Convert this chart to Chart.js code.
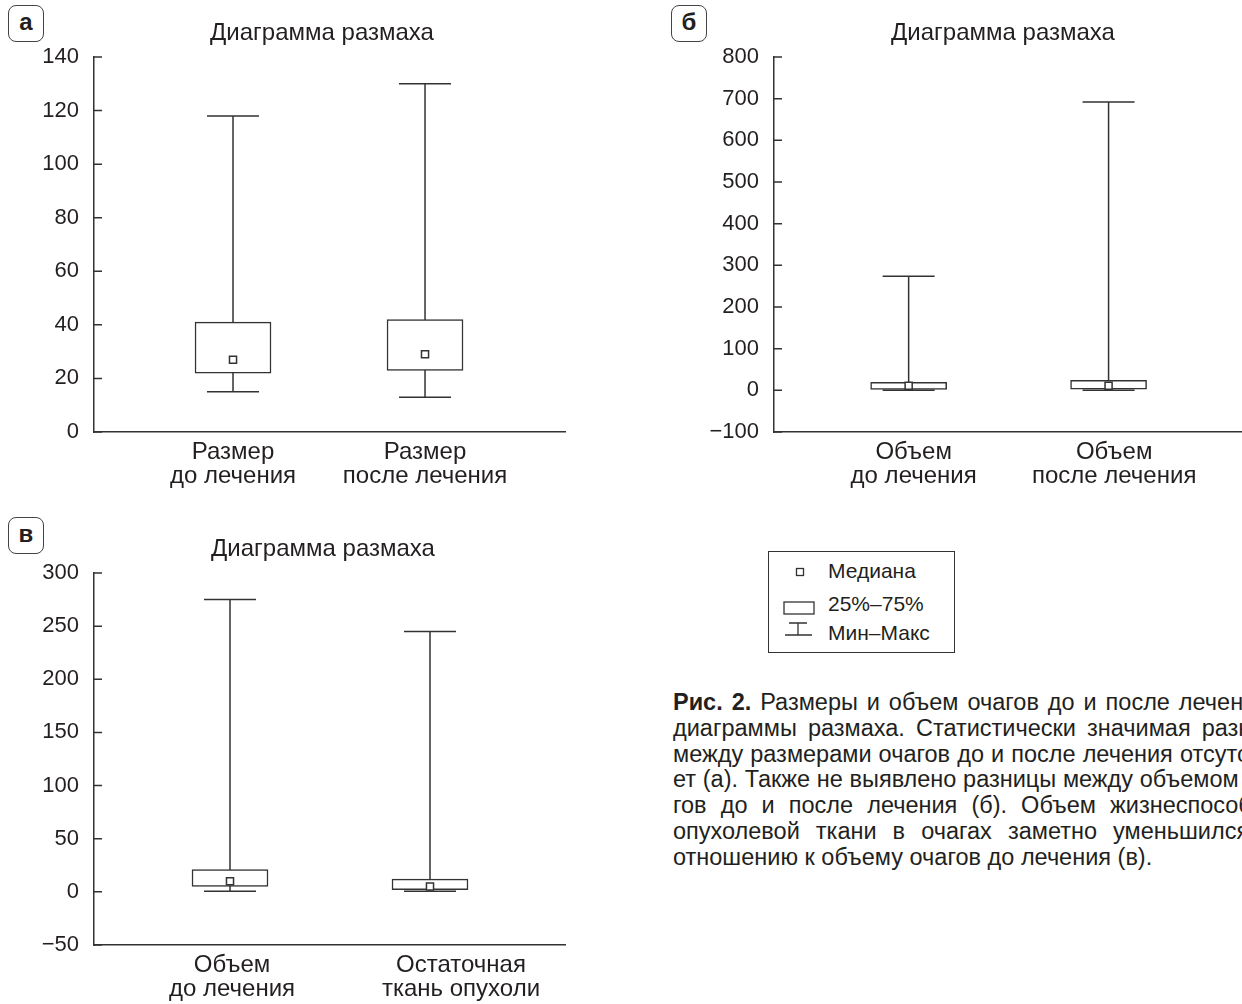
<!DOCTYPE html>
<html>
<head>
<meta charset="utf-8">
<script src="https://cdn.jsdelivr.net/npm/chart.js@4.4.1/dist/chart.umd.min.js"></script>
<style>
    body {
        margin: 0;
        width: 1242px;
        height: 1004px;
        overflow: hidden;
        position: relative;
        background: #fff;
        color: #231f20;
        font-family: "Liberation Sans", Arial, sans-serif;
    }
    canvas { position: absolute; }
    .tag {
        position: absolute;
        width: 34px;
        height: 35px;
        border: 1.5px solid #444;
        border-radius: 8px;
        font-weight: bold;
        font-size: 24px;
        line-height: 32px;
        text-align: center;
    }
    .legend {
        position: absolute;
        left: 768px;
        top: 551px;
        width: 185px;
        height: 100px;
        border: 1px solid #333;
    }
    .legend svg { position: absolute; left: 0; top: 0; }
    .legend span {
        position: absolute;
        left: 59px;
        font-size: 21px;
        line-height: 24px;
        white-space: nowrap;
    }
    .caption {
        position: absolute;
        left: 673px;
        top: 690px;
        font-size: 23.5px;
    }
    .caption div {
        width: 618px;
        height: 25.8px;
        line-height: 25.8px;
        white-space: nowrap;
        text-align: justify;
        text-align-last: justify;
    }
    .caption div.last { text-align-last: left; }
</style>
</head>
<body>

<div class="tag" style="left:8px;top:5px">а</div>
<div class="tag" style="left:671px;top:5px">б</div>
<div class="tag" style="left:8px;top:517px">в</div>

<canvas id="chartA" width="644" height="505" style="left:0;top:0"></canvas>
<canvas id="chartB" width="686" height="505" style="left:660px;top:0"></canvas>
<canvas id="chartC" width="646" height="488" style="left:0;top:516px"></canvas>

<div class="legend">
    <svg width="60" height="100">
        <rect x="27.5" y="16.5" width="7" height="7" fill="#fff" stroke="#333" stroke-width="1.3"/>
        <rect x="15" y="50" width="30" height="12" fill="#fff" stroke="#333" stroke-width="1.3"/>
        <path d="M20 71 H38 M29 71 V83 M16 83 H43" stroke="#333" stroke-width="1.3" fill="none"/>
    </svg>
    <span style="top:7px">Медиана</span>
    <span style="top:40px">25%–75%</span>
    <span style="top:69px">Мин–Макс</span>
</div>

<div class="caption">
    <div><b>Рис. 2.</b> Размеры и объем очагов до и после лечения –</div>
    <div>диаграммы размаха. Статистически значимая разница</div>
    <div>между размерами очагов до и после лечения отсутству-</div>
    <div>ет (а). Также не выявлено разницы между объемом оча-</div>
    <div>гов до и после лечения (б). Объем жизнеспособной</div>
    <div>опухолевой ткани в очагах заметно уменьшился по</div>
    <div class="last">отношению к объему очагов до лечения (в).</div>
</div>

<script>
// Data
const title = 'Диаграмма размаха';
const xPos = [1, 2];

// а: размер очагов
const catsA = [['Размер', 'до лечения'], ['Размер', 'после лечения']];
const minA = [15, 13];
const q1A = [22, 23];
const medA = [27, 29];
const q3A = [41, 42];
const maxA = [118, 130];
const yTicksA = [0, 20, 40, 60, 80, 100, 120, 140];

// б: объем очагов
const catsB = [['Объем', 'до лечения'], ['Объем', 'после лечения']];
const minB = [0, 0];
const q1B = [2, 3];
const medB = [11, 11];
const q3B = [19, 24];
const maxB = [274, 692];
const yTicksB = [-100, 0, 100, 200, 300, 400, 500, 600, 700, 800];

// в: объем до лечения и остаточная ткань
const catsC = [['Объем', 'до лечения'], ['Остаточная', 'ткань опухоли']];
const minC = [0.5, 0.5];
const q1C = [5, 2];
const medC = [10, 5];
const q3C = [21, 12];
const maxC = [275, 245];
const yTicksC = [-50, 0, 50, 100, 150, 200, 250, 300];

const ink = '#231f20';
const line = '#333';
const fontFamily = '"Liberation Sans", Arial, sans-serif';

// whiskers behind the boxes + inward ticks on the y axis
function whiskers(lo, hi) {
    return {
        id: 'whiskers',
        beforeDatasetsDraw(chart) {
            const {ctx, scales: {x, y}} = chart;
            ctx.save();
            ctx.strokeStyle = line;
            ctx.lineWidth = 1.5;
            lo.forEach((v, i) => {
                const px = x.getPixelForValue(xPos[i]);
                const yLo = y.getPixelForValue(v);
                const yHi = y.getPixelForValue(hi[i]);
                ctx.beginPath();
                ctx.moveTo(px, yLo);
                ctx.lineTo(px, yHi);
                ctx.moveTo(px - 26, yLo);
                ctx.lineTo(px + 26, yLo);
                ctx.moveTo(px - 26, yHi);
                ctx.lineTo(px + 26, yHi);
                ctx.stroke();
            });
            ctx.restore();
        },
        afterDraw(chart) {
            const {ctx, chartArea, scales: {y}} = chart;
            ctx.save();
            ctx.strokeStyle = line;
            ctx.lineWidth = 1.5;
            ctx.beginPath();
            y.ticks.forEach(t => {
                const py = y.getPixelForValue(t.value);
                ctx.moveTo(chartArea.left, py);
                ctx.lineTo(chartArea.left + 8, py);
            });
            ctx.stroke();
            ctx.restore();
        }
    };
}

// frame.area is in canvas px; the title is centred on the canvas,
// an empty right-hand axis takes up the space to the right of the plot
function boxChart(id, cats, lo, q1, med, q3, hi, yTicks, frame) {
    const canvas = document.getElementById(id);
    const W = canvas.width, H = canvas.height;
    const a = frame.area;
    const titleTop = frame.titleY - 14.4;

    return new Chart(canvas, {
        type: 'bar',
        data: {
            datasets: [{
                type: 'scatter',
                order: 1,
                data: xPos.map((x, i) => ({x: x, y: med[i]})),
                pointStyle: 'rect',
                pointRadius: 5,
                borderWidth: 1.5,
                borderColor: line,
                backgroundColor: '#fff'
            }, {
                type: 'bar',
                order: 2,
                data: xPos.map((x, i) => ({x: x, y: [q1[i], q3[i]]})),
                barThickness: 76,
                borderWidth: 1.5,
                borderSkipped: false,
                borderColor: line,
                backgroundColor: '#fff'
            }]
        },
        options: {
            responsive: false,
            animation: false,
            events: [],
            layout: {padding: 0},
            plugins: {
                legend: {display: false},
                tooltip: {enabled: false},
                title: {
                    display: true,
                    text: title,
                    color: ink,
                    font: {family: fontFamily, size: 24, weight: 'normal', lineHeight: 1.2},
                    padding: {top: titleTop, bottom: a.top - titleTop - 28.8}
                }
            },
            scales: {
                x: {
                    type: 'linear',
                    offset: false,
                    min: frame.xMin,
                    max: frame.xMax,
                    afterBuildTicks: s => { s.ticks = frame.labelAt.map(v => ({value: v})); },
                    afterFit: s => { s.height = H - a.bottom; },
                    grid: {drawOnChartArea: false, drawTicks: false},
                    border: {display: true, color: line, width: 1.5},
                    ticks: {
                        autoSkip: false,
                        maxRotation: 0,
                        padding: 8,
                        color: ink,
                        font: {family: fontFamily, size: 24, lineHeight: 1.0},
                        callback: (v, i) => cats[i]
                    }
                },
                y: {
                    min: yTicks[0],
                    max: yTicks[yTicks.length - 1],
                    afterBuildTicks: s => { s.ticks = yTicks.map(v => ({value: v})); },
                    afterFit: s => { s.width = a.left; },
                    grid: {drawOnChartArea: false, drawTicks: false},
                    border: {display: true, color: line, width: 1.5},
                    ticks: {
                        padding: 15,
                        color: ink,
                        font: {family: fontFamily, size: 22},
                        callback: v => (v < 0 ? '\u2212' + Math.abs(v) : v)
                    }
                },
                spacer: {
                    position: 'right',
                    display: true,
                    min: 0,
                    max: 1,
                    afterFit: s => { s.width = W - a.right; },
                    grid: {display: false, drawTicks: false},
                    border: {display: false},
                    ticks: {display: false}
                }
            }
        },
        plugins: [whiskers(lo, hi)]
    });
}

boxChart('chartA', catsA, minA, q1A, medA, q3A, maxA, yTicksA, {
    area: {left: 94, top: 57, right: 565, bottom: 432},
    titleY: 33,
    xMin: 0.276, xMax: 2.729, labelAt: [1, 2]
});

boxChart('chartB', catsB, minB, q1B, medB, q3B, maxB, yTicksB, {
    area: {left: 114, top: 57, right: 620, bottom: 432},
    titleY: 33,
    xMin: 0.3265, xMax: 2.8575, labelAt: [1.025, 2.028]
});

boxChart('chartC', catsC, minC, q1C, medC, q3C, maxC, yTicksC, {
    area: {left: 94, top: 57, right: 565, bottom: 429},
    titleY: 33,
    xMin: 0.32, xMax: 2.675, labelAt: [1.01, 2.155]
});
</script>
</body>
</html>
